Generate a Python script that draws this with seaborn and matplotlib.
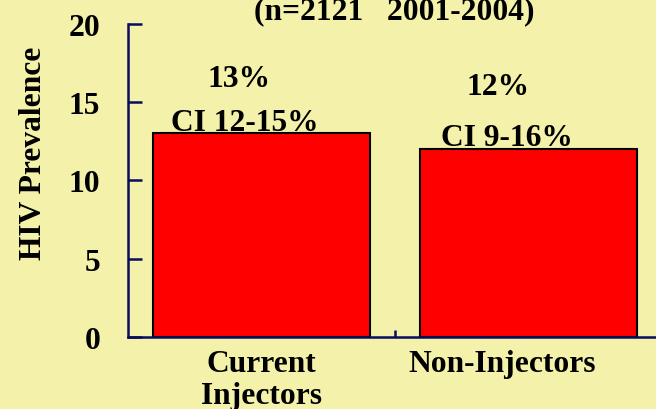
#hiv_prevalence_bars.py

import matplotlib
matplotlib.use("Agg")
import matplotlib.pyplot as plt
import matplotlib.transforms as mtransforms
import pandas as pd
import seaborn as sns

# chart data
categories = ["Current\nInjectors", "Non-Injectors"]
prevalence = [13, 12]
pct_labels = ["13%", "12%"]
ci_labels = ["CI 12-15%", "CI 9-16%"]
y_ticks = [0, 5, 10, 15, 20]
title_text = "(n=2121   2001-2004)"
y_label = "HIV Prevalence"

BG = "#F4F2AA"
NAVY = "#0A0A60"
FS = 22.7

sns.set_style("white")
plt.rcParams['font.family'] = ['Liberation Serif', 'DejaVu Serif']
plt.rcParams['font.weight'] = 'bold'
plt.rcParams['text.color'] = 'black'
plt.rcParams['axes.labelcolor'] = 'black'
plt.rcParams['xtick.color'] = 'black'
plt.rcParams['ytick.color'] = 'black'

df = pd.DataFrame({"group": categories, "prev": prevalence})

fig = plt.figure(figsize=(6.56, 4.10), dpi=100, facecolor=BG)
# axes spans -0.5..1.5 on x, a little past the right edge of the figure
ax = fig.add_axes([128 / 656, 72 / 410, 534 / 656, 313.5 / 410])
ax.set_facecolor(BG)

sns.barplot(data=df, x="group", y="prev", color="#FF0000", edgecolor="black",
            linewidth=1.5, width=0.81, saturation=1, ax=ax)

ax.set_xlim(-0.5, 1.5)
ax.set_ylim(0, 20)
ax.set_yticks(y_ticks)
ax.set_yticklabels([str(t) for t in y_ticks], fontsize=FS, fontweight='bold')
ax.tick_params(axis='y', left=True, direction='in', length=10, width=1.8,
               color=NAVY, labelcolor='black', pad=20)

ax.set_xticks([0, 1])
ax.set_xticklabels(categories, fontsize=FS, fontweight='bold')
ax.tick_params(axis='x', which='major', bottom=True, length=0, pad=9, labelcolor='black')
ax.set_xticks([0.5], minor=True)
ax.tick_params(axis='x', which='minor', bottom=True, direction='in', length=5,
               width=1.8, color=NAVY)
for lbl in ax.get_xticklabels():
    lbl.set_linespacing(1.13)
# the second category label sits left of its bar in the original
shift = mtransforms.ScaledTranslation(-26 / 100, 0, fig.dpi_scale_trans)
ax.get_xticklabels()[1].set_transform(ax.get_xticklabels()[1].get_transform() + shift)

ax.set_xlabel("")
ax.set_ylabel(y_label, fontsize=FS, fontweight='bold')
ax.yaxis.label.set_verticalalignment('center')
ax.yaxis.set_label_coords((33 - 128) / 534, 0.588)

for side in ["top", "right"]:
    ax.spines[side].set_visible(False)
for side in ["left", "bottom"]:
    ax.spines[side].set_color(NAVY)
    ax.spines[side].set_linewidth(1.8)
ax.spines["left"].set_zorder(5)
ax.spines["bottom"].set_zorder(5)

# percentage and confidence interval labels above the bars
pct_pos = [(-0.084, 16.0), (0.886, 15.49)]
ci_pos = [(-0.062, 13.19), (0.919, 12.25)]
for txt, (x, y) in zip(pct_labels, pct_pos):
    ax.text(x, y, txt, ha='center', va='baseline', fontsize=FS, fontweight='bold')
for txt, (x, y) in zip(ci_labels, ci_pos):
    ax.text(x, y, txt, ha='center', va='baseline', fontsize=FS, fontweight='bold')

fig.text(394 / 656, 1 - 19 / 410, title_text, ha='center', va='baseline',
         fontsize=FS, fontweight='bold')

fig.savefig("out.png", dpi=100, facecolor=BG)
